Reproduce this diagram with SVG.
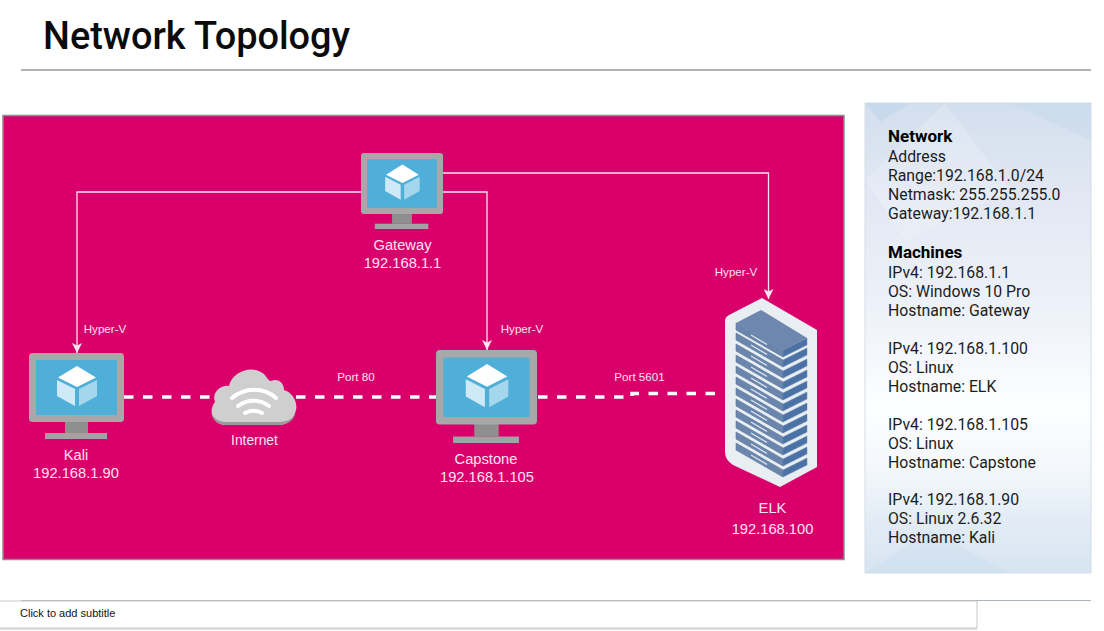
<svg xmlns="http://www.w3.org/2000/svg" xmlns:xlink="http://www.w3.org/1999/xlink" width="1104" height="631" viewBox="0 0 1104 631">
<style>
.lab{font-family:"Liberation Sans",Arial,sans-serif;fill:#fde3f1;text-anchor:middle}
.l14{font-size:14.7px}
.l11{font-size:11.600px}
.side{font-family:Roboto,"Liberation Sans",sans-serif;font-size:15.800px;fill:#1c1c1c}
.sideb{font-weight:700;fill:#000;font-size:17px}
.thin{fill:none;stroke:#fbe3f0;stroke-width:1.3}
.dash{fill:none;stroke:#fff;stroke-width:3.500;stroke-dasharray:9.500 9.500}
</style>
<defs>
<linearGradient id="pg" x1="0" y1="0" x2="0" y2="1">
<stop offset="0" stop-color="#d2dfee"/><stop offset=".2" stop-color="#e2e8f3"/><stop offset=".45" stop-color="#eef2f9"/><stop offset=".65" stop-color="#fdfeff"/><stop offset=".78" stop-color="#f3f7fb"/><stop offset=".88" stop-color="#e4edf6"/><stop offset="1" stop-color="#d6e4f1"/>
</linearGradient>
<marker id="arr" markerWidth="10" markerHeight="10" refX="10" refY="5" orient="auto" markerUnits="userSpaceOnUse" viewBox="0 0 10 10"><path d="M10 5L0 0L2.500 5L0 10Z" fill="#fbe3f0"/></marker>
<symbol id="vm" viewBox="0 0 95 86" preserveAspectRatio="none">
<path d="M36 68H59V80H36Z" fill="#8f8f8f"/>
<rect x="16" y="80" width="62" height="6" fill="#a3a3a3"/>
<rect width="95" height="69" rx="3.500" fill="#a8a8a8"/>
<rect x="7" y="7" width="81" height="55" fill="#50afd8"/>
<path d="M48 13L67 24.500L48 34L29 24.500Z" fill="#fff"/>
<path d="M28 27L46 36V53L28 43Z" fill="#cfe9f6"/>
<path d="M50 36L68 27V43L50 53Z" fill="#a4d6ec"/>
</symbol>
<g id="u">
<path d="M0 0L47 27V34L0 7Z" fill="#6b86ad" stroke="#567399" stroke-width=".6"/>
<path d="M47 27L71 15V22L47 34Z" fill="#4b72a4" stroke="#6a8ab3" stroke-width=".5"/>
<path d="M15 12L31 21.500" stroke="#dfe6f0" stroke-width="1.200"/>
</g>
</defs>
<rect width="1104" height="631" fill="#fff"/>
<text x="43" y="49" font-family="Roboto,'Liberation Sans',sans-serif" font-size="37.900" font-weight="500" fill="#0b0b0b">Network Topology</text>
<path d="M21 70H1091" stroke="#666" stroke-width="1.200"/>
<rect x="3" y="115.500" width="841" height="444" fill="#d9006c" stroke="#8d8d8d" stroke-width="1.500"/>

<g id="connectors">
<path class="thin" d="M361 192H77V353" marker-end="url(#arr)"/>
<path class="thin" d="M443 192H487V350" marker-end="url(#arr)"/>
<path class="thin" d="M443 173H768.500V299" marker-end="url(#arr)"/>
<path class="dash" d="M124 397H212"/>
<path class="dash" d="M296 397H436"/>
<path class="dash" d="M538 397H632V393.500H722"/>
<text class="lab l11" x="105" y="333">Hyper-V</text>
<text class="lab l11" x="522" y="333">Hyper-V</text>
<text class="lab l11" x="736" y="276">Hyper-V</text>
<text class="lab l11" x="356" y="381">Port 80</text>
<text class="lab l11" x="639.500" y="381">Port 5601</text>
</g>

<g id="gateway">
<use xlink:href="#vm" href="#vm" x="361" y="153" width="82" height="76"/>
<text class="lab l14" x="402.500" y="250">Gateway</text>
<text class="lab l14" x="402.500" y="268">192.168.1.1</text>
</g>
<g id="kali">
<use xlink:href="#vm" href="#vm" x="29" y="353" width="95" height="86"/>
<text class="lab l14" x="76" y="460">Kali</text>
<text class="lab l14" x="76" y="478">192.168.1.90</text>
</g>
<g id="capstone">
<use xlink:href="#vm" href="#vm" x="436" y="350" width="101" height="93"/>
<text class="lab l14" x="486" y="464">Capstone</text>
<text class="lab l14" x="487" y="482">192.168.1.105</text>
</g>
<g id="internet">
<path d="M226 425C212 425 208 410 215 402C211 392 222 384 229 386C232 372 252 364 264 374C268 379 269 381 271 381C278 378 284 383 284 390C292 392 298 402 296 410C294 419 288 425 278 425Z" fill="#cfcfcf"/>
<path d="M211 412C213 421 219 425 226 425H278C288 425 294 420 296 412C294 418 288 422 278 422H226C219 422 213 418 211 412Z" fill="#9b9b9b"/>
<path d="M232 398C245 387 264 387 276 398M238 406C247 399 260 399 269 406M245 413C250 410 257 410 262 413" fill="none" stroke="#fff" stroke-width="4" stroke-linecap="round"/>
<text class="lab" font-size="13.800" x="254.500" y="445">Internet</text>
</g>
<g id="elk">
<path d="M762 298L817 330V467L780 487L733 465Q725 460 725 452V321Q725 317 729 315Z" fill="#e9eef3"/>
<use href="#u" xlink:href="#u" x="736" y="443"/>
<use href="#u" xlink:href="#u" x="736" y="432"/>
<use href="#u" xlink:href="#u" x="736" y="421"/>
<use href="#u" xlink:href="#u" x="736" y="410"/>
<use href="#u" xlink:href="#u" x="736" y="399"/>
<use href="#u" xlink:href="#u" x="736" y="388"/>
<use href="#u" xlink:href="#u" x="736" y="377"/>
<use href="#u" xlink:href="#u" x="736" y="366"/>
<use href="#u" xlink:href="#u" x="736" y="355"/>
<use href="#u" xlink:href="#u" x="736" y="344"/>
<use href="#u" xlink:href="#u" x="736" y="333"/>
<use href="#u" xlink:href="#u" x="736" y="323"/>
<path d="M736 323L761 310L807 338L783 350Z" fill="#6d87ae"/>
<text class="lab l14" x="772.500" y="513">ELK</text>
<text class="lab l14" x="772.500" y="534">192.168.100</text>
</g>

<g id="info">
<rect x="865" y="103" width="226" height="470" fill="url(#pg)" stroke="#d5dde6"/>
<path d="M865 103H910L880 122Z" fill="#b7d0e8" opacity=".4"/>
<path d="M1010 103H1091V140Z" fill="#b7d0e8" opacity=".22"/>
<path d="M945 103L1010 190L905 240L865 180Z" fill="#fff" opacity=".18"/>
<path d="M865 573L930 530L1010 573Z" fill="#b7d0e8" opacity=".15"/>
<text class="side sideb" x="888" y="142">Network</text>
<text class="side" x="888" y="162">Address</text>
<text class="side" x="888" y="181">Range:192.168.1.0/24</text>
<text class="side" x="888" y="200">Netmask: 255.255.255.0</text>
<text class="side" x="888" y="219">Gateway:192.168.1.1</text>
<text class="side sideb" x="888" y="258">Machines</text>
<text class="side" x="888" y="278">IPv4: 192.168.1.1</text>
<text class="side" x="888" y="297">OS: Windows 10 Pro</text>
<text class="side" x="888" y="316">Hostname: Gateway</text>
<text class="side" x="888" y="354">IPv4: 192.168.1.100</text>
<text class="side" x="888" y="373">OS: Linux</text>
<text class="side" x="888" y="392">Hostname: ELK</text>
<text class="side" x="888" y="430">IPv4: 192.168.1.105</text>
<text class="side" x="888" y="449">OS: Linux</text>
<text class="side" x="888" y="468">Hostname: Capstone</text>
<text class="side" x="888" y="505">IPv4: 192.168.1.90</text>
<text class="side" x="888" y="524">OS: Linux 2.6.32</text>
<text class="side" x="888" y="543">Hostname: Kali</text>
</g>

<path d="M21 600.500H1091" stroke="#a9b4ba" stroke-width="1.200"/>
<path d="M0 601H977V628H0" fill="#fff" stroke="#c6c6c6" stroke-width="1"/>
<path d="M0 629H977" stroke="#d4d4d4" stroke-width="1.500"/>
<text x="20" y="617" font-family="'Liberation Sans',Arial,sans-serif" font-size="11px" fill="#111">Click to add subtitle</text>
</svg>
